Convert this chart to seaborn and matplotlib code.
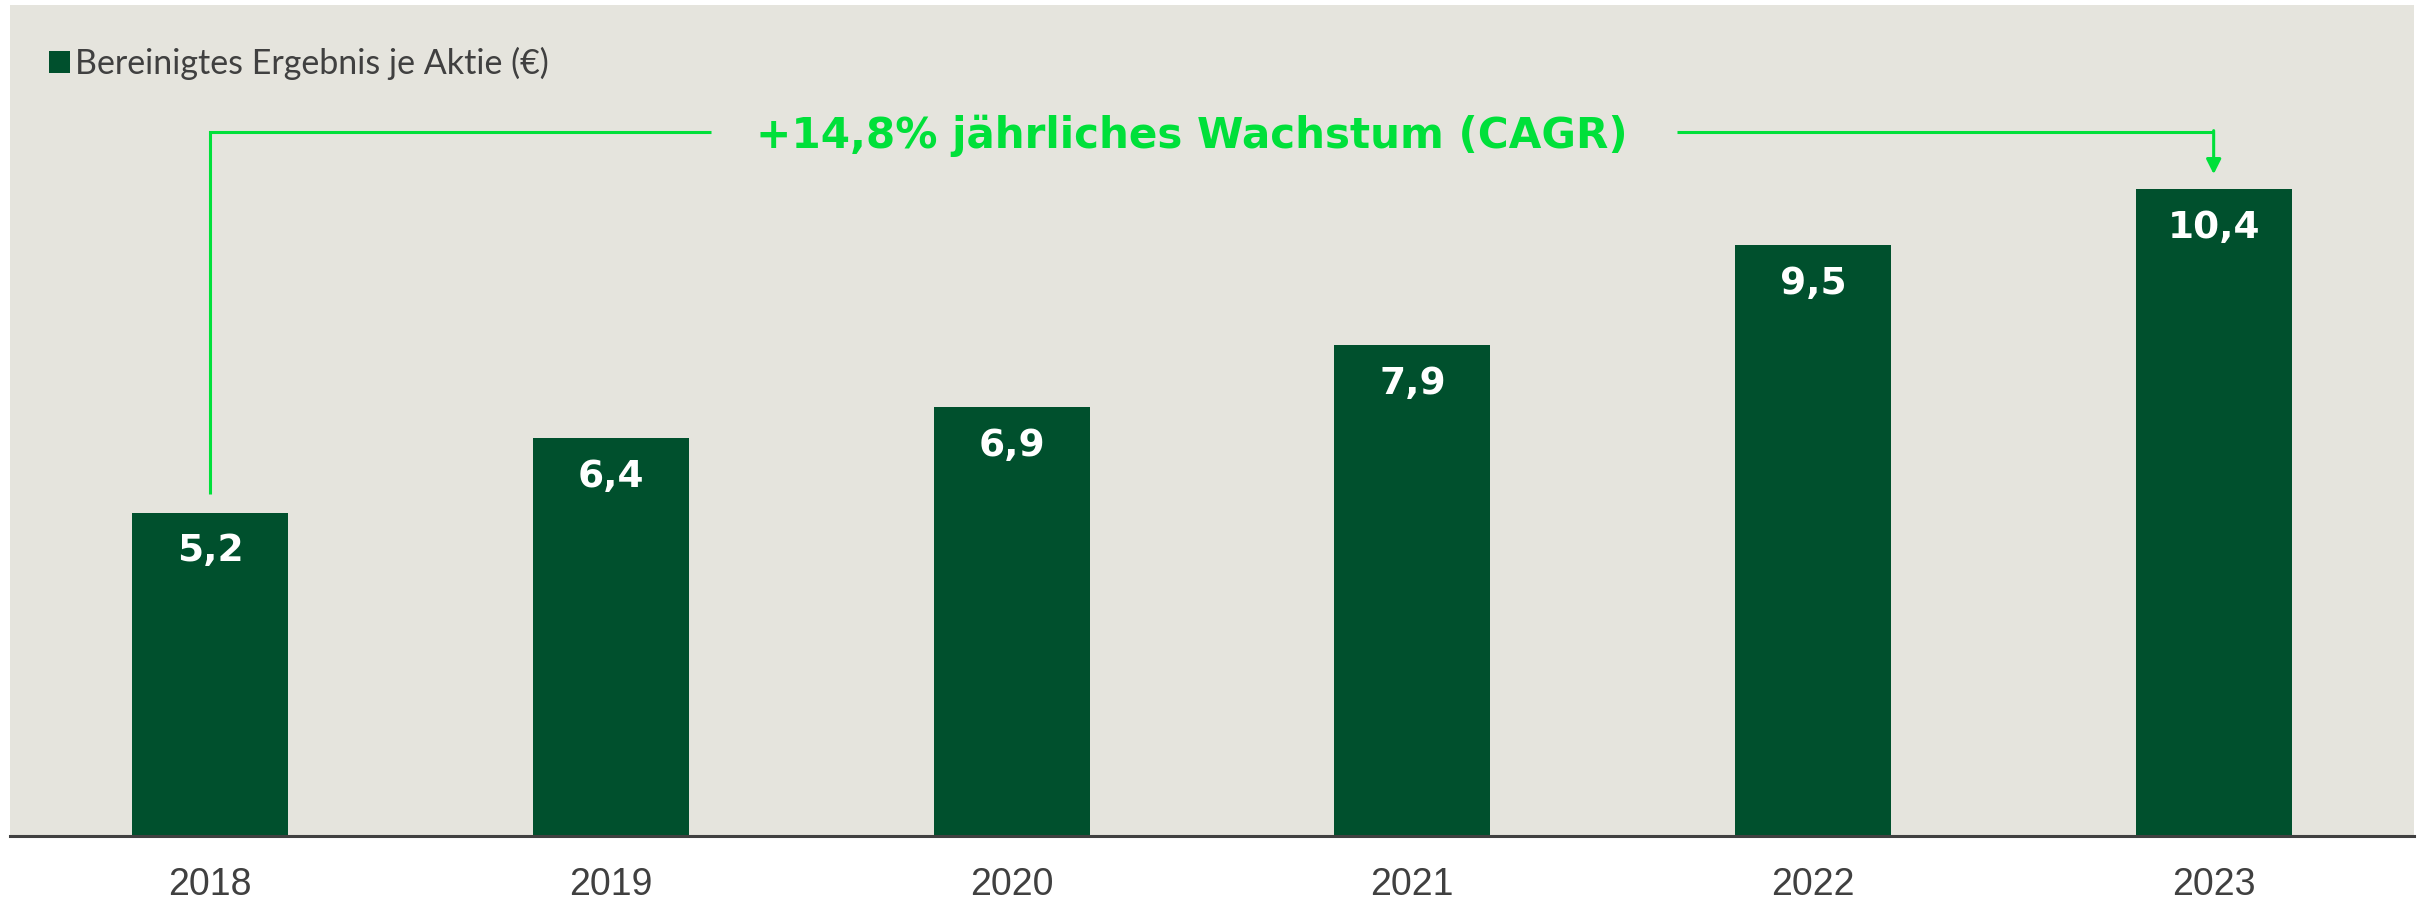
import matplotlib
matplotlib.use("Agg")
import matplotlib.pyplot as plt
import seaborn as sns
import pandas as pd

# data
years = ["2018", "2019", "2020", "2021", "2022", "2023"]
eps = [5.2, 6.4, 6.9, 7.9, 9.5, 10.4]
series_label = "Bereinigtes Ergebnis je Aktie (€)"
cagr_text = "+14,8% jährliches Wachstum (CAGR)"

bar_color = "#00502D"
bg_color = "#E5E4DD"
accent = "#00E03A"
text_grey = "#404040"

df = pd.DataFrame({"year": years, "eps": eps})

sns.set_theme(style="white")
plt.rcParams["font.family"] = ["Lato", "DejaVu Sans"]

fig = plt.figure(figsize=(24.2, 8.99), dpi=100)
ax = fig.add_axes([10 / 2420, 63 / 899, 2404 / 2420, 831 / 899])
ax.set_facecolor(bg_color)

sns.barplot(data=df, x="year", y="eps", color=bar_color, width=0.39,
            saturation=1, label=series_label, linewidth=0, ax=ax)

ax.set_xlim(-0.5, len(years) - 0.5)
ax.set_ylim(0, 13.36)

# value labels inside the bars
for i, v in enumerate(eps):
    ax.annotate(f"{v:.1f}".replace(".", ","), xy=(i, v), xytext=(0, -28),
                textcoords="offset points", ha="center", va="center",
                color="white", fontsize=27, fontweight="bold", family="DejaVu Sans")

# CAGR bracket from first to last bar
line_y = 11.32
ax.plot([0, 0, 1.25], [eps[0] + 0.3, line_y, line_y], color=accent, lw=2.2,
        solid_capstyle="butt", solid_joinstyle="miter")
ax.plot([3.66, len(years) - 1], [line_y, line_y], color=accent, lw=2.2,
        solid_capstyle="butt")
ax.annotate("", xy=(len(years) - 1, eps[-1] + 0.24), xytext=(len(years) - 1, line_y + 0.02),
            arrowprops=dict(arrowstyle="-|>", color=accent, lw=2.2,
                            mutation_scale=22, shrinkA=0, shrinkB=0))
ax.text(2.45, line_y - 0.07, cagr_text, ha="center", va="center", color=accent,
        fontsize=30.3, fontweight="bold", family="DejaVu Sans")

# axes styling
for side in ["top", "right", "left"]:
    ax.spines[side].set_visible(False)
ax.spines["bottom"].set_color(text_grey)
ax.spines["bottom"].set_linewidth(2.2)
ax.set_yticks([])
ax.set_xlabel("")
ax.set_ylabel("")
ax.tick_params(axis="x", length=0, pad=22, labelsize=27, labelcolor=text_grey)
for lab in ax.get_xticklabels():
    lab.set_family(["Liberation Sans", "DejaVu Sans"])

leg = ax.legend(loc="upper left", bbox_to_anchor=(0.0, 0.997), frameon=False,
                handlelength=0.6, handleheight=0.6, handletextpad=0.15,
                borderaxespad=0.75, prop={"family": "Lato", "weight": "normal", "size": 24.5})
for t in leg.get_texts():
    t.set_color(text_grey)

fig.savefig("out.png", dpi=100, facecolor="white")
